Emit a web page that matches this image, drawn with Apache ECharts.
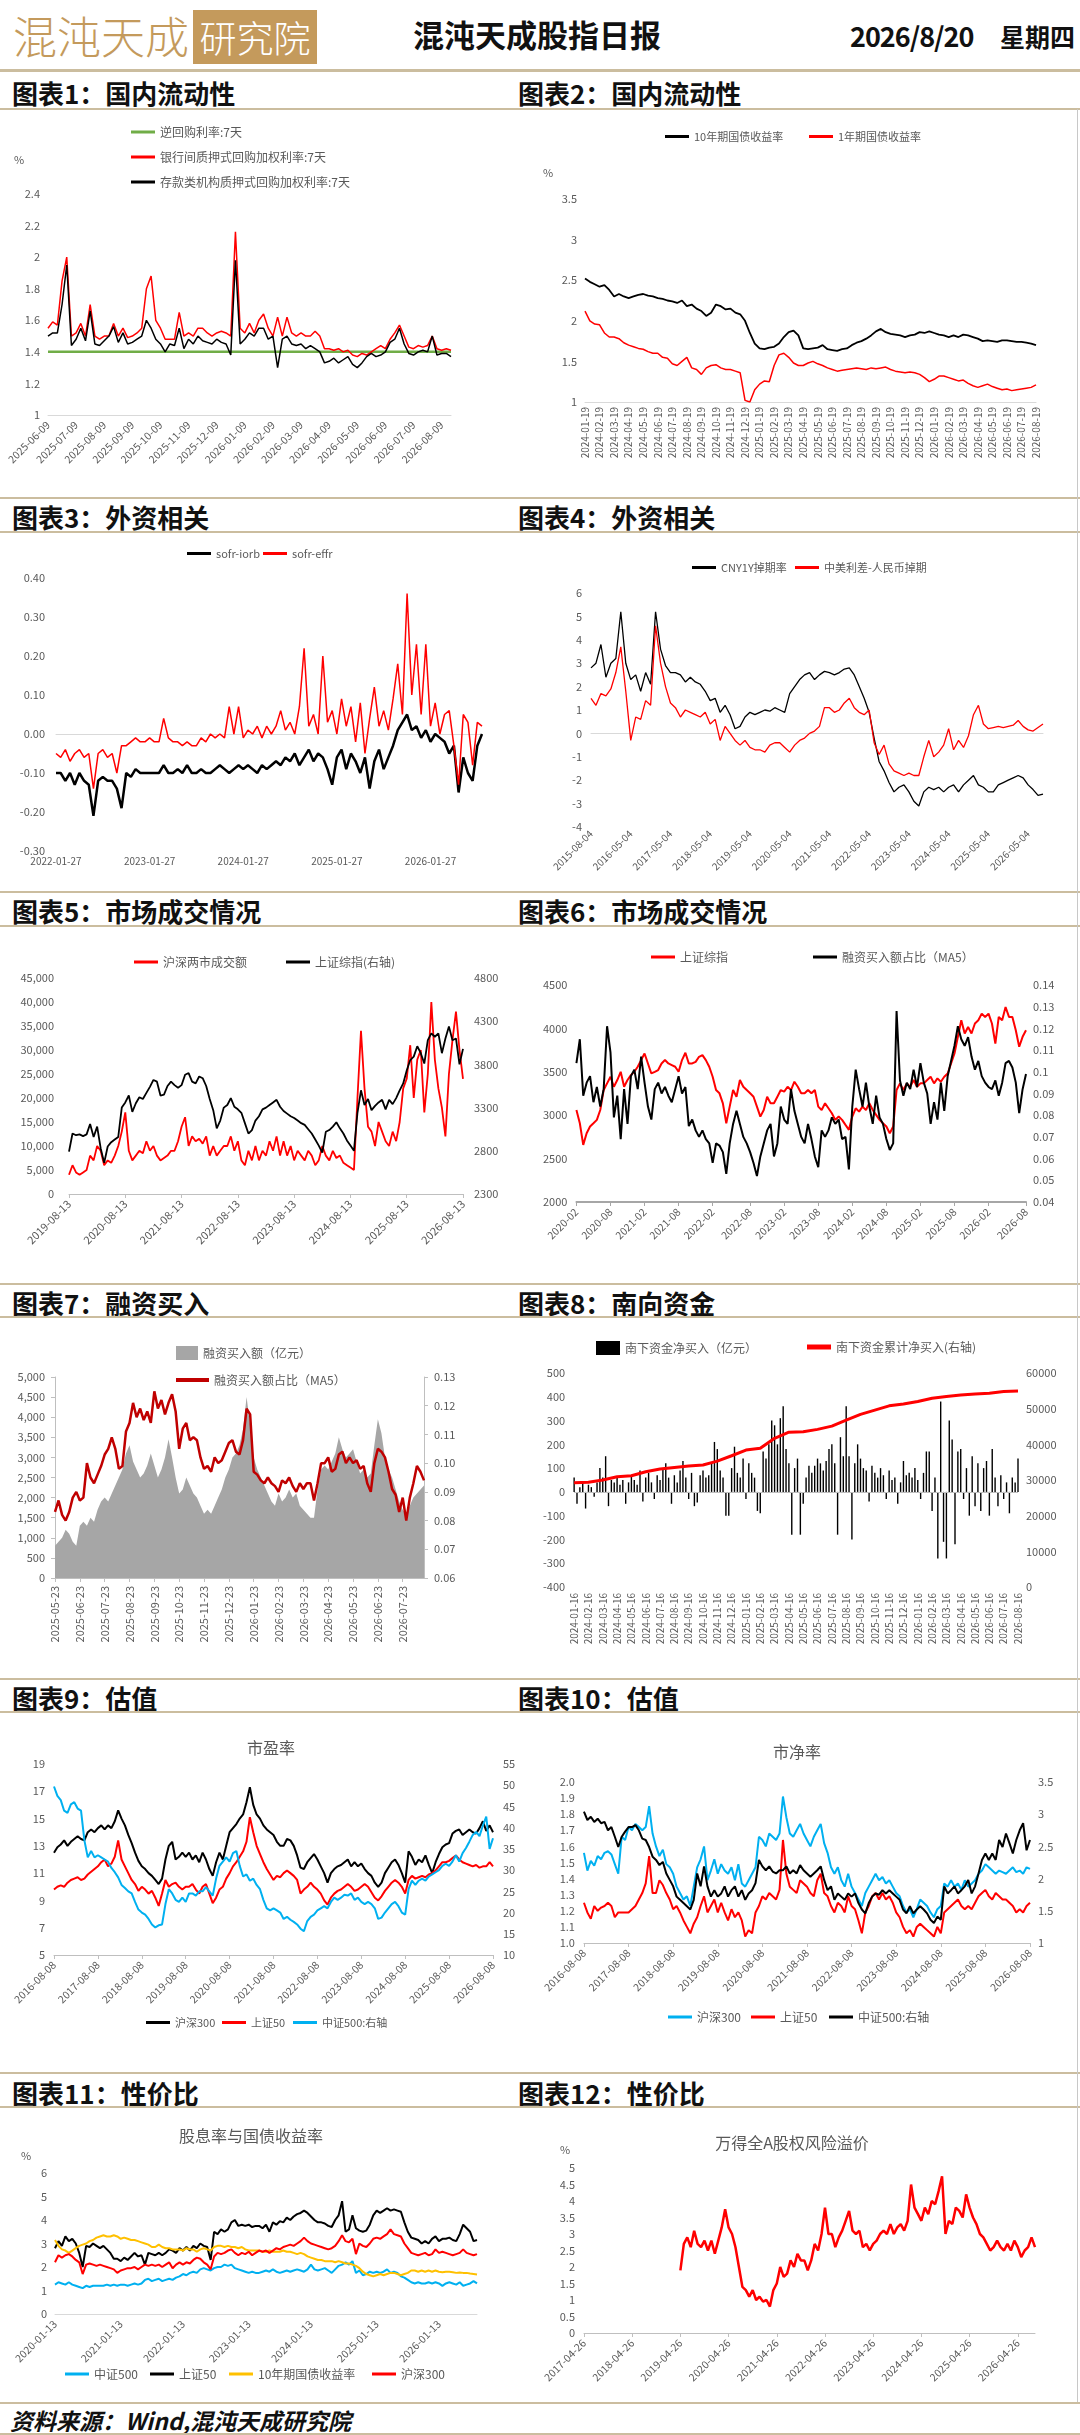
<!DOCTYPE html>
<html>
<head>
<meta charset="utf-8">
<script src="https://cdn.jsdelivr.net/npm/echarts@6/dist/echarts.min.js"></script>
<style>
  body { margin: 0; background: #fff; }
  #page { position: relative; width: 1080px; height: 2435px; overflow: hidden; font-family: "Noto Sans CJK SC", "Noto Sans", sans-serif; color: #111; }
  .rule { position: absolute; left: 0; width: 1080px; height: 2px; background: #cbbd9f; }
  .sec { position: absolute; font-size: 26px; font-weight: 700; line-height: 30px; white-space: nowrap; }
  .chart { position: absolute; width: 540px; }
  .note { position: absolute; color: #595959; font-size: 11px; line-height: 12px; white-space: nowrap; z-index: 2; }
  .ctitle { position: absolute; color: #595959; font-size: 16px; line-height: 18px; white-space: nowrap; transform: translateX(-50%); z-index: 2; }
</style>
</head>
<body>
<div id="page">
  <!-- header -->
  <div style="position:absolute;left:13px;top:6px;font-size:44px;line-height:58px;font-weight:300;color:#c49a5c;letter-spacing:0;">混沌天成</div>
  <div style="position:absolute;left:193px;top:10px;width:124px;height:54px;background:#c49a5c;color:#fff;font-size:37px;line-height:54px;font-weight:300;text-align:center;">研究院</div>
  <div style="position:absolute;left:413px;top:15px;font-size:31px;line-height:38px;font-weight:700;">混沌天成股指日报</div>
  <div style="position:absolute;left:850px;top:18px;font-size:27px;line-height:36px;font-weight:700;letter-spacing:-1px;">2026/8/20</div>
  <div style="position:absolute;left:1000px;top:18px;font-size:25px;line-height:36px;font-weight:700;">星期四</div>
  <div class="rule" style="top:69px;height:3px;"></div>

  <!-- section titles and rules -->
  <div class="sec" style="left:12px;top:78px;">图表1：国内流动性</div>
  <div class="sec" style="left:518px;top:78px;">图表2：国内流动性</div>
  <div class="rule" style="top:108px;"></div>
  <div class="rule" style="top:497px;"></div>
  <div class="sec" style="left:12px;top:502px;">图表3：外资相关</div>
  <div class="sec" style="left:518px;top:502px;">图表4：外资相关</div>
  <div class="rule" style="top:531px;"></div>
  <div class="rule" style="top:891px;"></div>
  <div class="sec" style="left:12px;top:896px;">图表5：市场成交情况</div>
  <div class="sec" style="left:518px;top:896px;">图表6：市场成交情况</div>
  <div class="rule" style="top:925px;"></div>
  <div class="rule" style="top:1283px;"></div>
  <div class="sec" style="left:12px;top:1288px;">图表7：融资买入</div>
  <div class="sec" style="left:518px;top:1288px;">图表8：南向资金</div>
  <div class="rule" style="top:1316px;"></div>
  <div class="rule" style="top:1678px;"></div>
  <div class="sec" style="left:12px;top:1683px;">图表9：估值</div>
  <div class="sec" style="left:518px;top:1683px;">图表10：估值</div>
  <div class="rule" style="top:1711px;"></div>
  <div class="rule" style="top:2072px;"></div>
  <div class="sec" style="left:12px;top:2078px;">图表11：性价比</div>
  <div class="sec" style="left:518px;top:2078px;">图表12：性价比</div>
  <div class="rule" style="top:2106px;"></div>
  <div style="position:absolute;left:1077px;top:109px;width:1px;height:2294px;background:#c8c8c8;"></div>

  <!-- charts -->
  <div class="chart" id="c1" style="left:0;top:110px;height:388px;"></div>
  <div class="chart" id="c2" style="left:540px;top:110px;height:388px;"></div>
  <div class="chart" id="c3" style="left:0;top:533px;height:359px;"></div>
  <div class="chart" id="c4" style="left:540px;top:533px;height:359px;"></div>
  <div class="chart" id="c5" style="left:0;top:927px;height:357px;"></div>
  <div class="chart" id="c6" style="left:540px;top:927px;height:357px;"></div>
  <div class="chart" id="c7" style="left:0;top:1318px;height:360px;"></div>
  <div class="chart" id="c8" style="left:540px;top:1318px;height:360px;"></div>
  <div class="chart" id="c9" style="left:0;top:1713px;height:359px;"></div>
  <div class="chart" id="c10" style="left:540px;top:1713px;height:359px;"></div>
  <div class="chart" id="c11" style="left:0;top:2108px;height:294px;"></div>
  <div class="chart" id="c12" style="left:540px;top:2108px;height:294px;"></div>

  <!-- small notes and chart titles -->
  <div class="note" style="left:14px;top:153px;">%</div>
  <div class="note" style="left:543px;top:166px;">%</div>
  <div class="note" style="left:21px;top:2149px;">%</div>
  <div class="note" style="left:560px;top:2143px;">%</div>
  <div class="ctitle" style="left:271px;top:1738px;">市盈率</div>
  <div class="ctitle" style="left:797px;top:1742px;">市净率</div>
  <div class="ctitle" style="left:251px;top:2126px;">股息率与国债收益率</div>
  <div class="ctitle" style="left:792px;top:2133px;">万得全A股权风险溢价</div>

  <!-- footer -->
  <div class="rule" style="top:2402px;"></div>
  <div style="position:absolute;left:10px;top:2405px;font-size:23px;line-height:30px;font-weight:700;font-style:italic;">资料来源：Wind,混沌天成研究院</div>
  <div class="rule" style="top:2433px;"></div>
</div>

<script>
// ---------- tick labels ----------
const c1Ticks = ['2025-06-09','2025-07-09','2025-08-09','2025-09-09','2025-10-09','2025-11-09','2025-12-09','2026-01-09','2026-02-09','2026-03-09','2026-04-09','2026-05-09','2026-06-09','2026-07-09','2026-08-09'];
const c2Ticks = ['2024-01-19','2024-02-19','2024-03-19','2024-04-19','2024-05-19','2024-06-19','2024-07-19','2024-08-19','2024-09-19','2024-10-19','2024-11-19','2024-12-19','2025-01-19','2025-02-19','2025-03-19','2025-04-19','2025-05-19','2025-06-19','2025-07-19','2025-08-19','2025-09-19','2025-10-19','2025-11-19','2025-12-19','2026-01-19','2026-02-19','2026-03-19','2026-04-19','2026-05-19','2026-06-19','2026-07-19','2026-08-19'];
const c3Ticks = ['2022-01-27','2023-01-27','2024-01-27','2025-01-27','2026-01-27'];
const c4Ticks = ['2015-08-04','2016-05-04','2017-05-04','2018-05-04','2019-05-04','2020-05-04','2021-05-04','2022-05-04','2023-05-04','2024-05-04','2025-05-04','2026-05-04'];
const c5Ticks = ['2019-08-13','2020-08-13','2021-08-13','2022-08-13','2023-08-13','2024-08-13','2025-08-13','2026-08-13'];
const c6Ticks = ['2020-02','2020-08','2021-02','2021-08','2022-02','2022-08','2023-02','2023-08','2024-02','2024-08','2025-02','2025-08','2026-02','2026-08'];
const c7Ticks = ['2025-05-23','2025-06-23','2025-07-23','2025-08-23','2025-09-23','2025-10-23','2025-11-23','2025-12-23','2026-01-23','2026-02-23','2026-03-23','2026-04-23','2026-05-23','2026-06-23','2026-07-23'];
const c8Ticks = ['2024-01-16','2024-02-16','2024-03-16','2024-04-16','2024-05-16','2024-06-16','2024-07-16','2024-08-16','2024-09-16','2024-10-16','2024-11-16','2024-12-16','2025-01-16','2025-02-16','2025-03-16','2025-04-16','2025-05-16','2025-06-16','2025-07-16','2025-08-16','2025-09-16','2025-10-16','2025-11-16','2025-12-16','2026-01-16','2026-02-16','2026-03-16','2026-04-16','2026-05-16','2026-06-16','2026-07-16','2026-08-16'];
const c9Ticks = ['2016-08-08','2017-08-08','2018-08-08','2019-08-08','2020-08-08','2021-08-08','2022-08-08','2023-08-08','2024-08-08','2025-08-08','2026-08-08'];
const c11Ticks = ['2020-01-13','2021-01-13','2022-01-13','2023-01-13','2024-01-13','2025-01-13','2026-01-13'];
const c12Ticks = ['2017-04-26','2018-04-26','2019-04-26','2020-04-26','2021-04-26','2022-04-26','2023-04-26','2024-04-26','2025-04-26','2026-04-26'];

// ---------- chart 1: repo rates (%), ~5 days per point ----------
const repo7d = [1.4, 1.4]; // first and last day, unchanged over the window
const liqInterbank = [1.55,1.59,1.57,1.85,2.0,1.5,1.52,1.58,1.5,1.7,1.5,1.48,1.5,1.5,1.58,1.5,1.55,1.49,1.5,1.52,1.55,1.8,1.88,1.6,1.55,1.48,1.48,1.48,1.65,1.5,1.52,1.5,1.55,1.55,1.52,1.5,1.52,1.53,1.52,1.5,2.16,1.55,1.52,1.58,1.52,1.6,1.64,1.55,1.5,1.62,1.5,1.62,1.52,1.5,1.52,1.5,1.5,1.53,1.5,1.42,1.42,1.41,1.42,1.4,1.41,1.38,1.37,1.39,1.38,1.4,1.42,1.44,1.42,1.48,1.52,1.57,1.5,1.43,1.42,1.44,1.43,1.44,1.5,1.42,1.41,1.42,1.41];
const liqDeposit = [1.5,1.52,1.52,1.7,1.95,1.44,1.48,1.55,1.47,1.66,1.45,1.44,1.47,1.5,1.56,1.46,1.52,1.45,1.46,1.48,1.5,1.6,1.55,1.48,1.45,1.4,1.45,1.44,1.55,1.42,1.48,1.45,1.5,1.47,1.46,1.45,1.48,1.46,1.45,1.38,1.98,1.45,1.48,1.52,1.5,1.55,1.55,1.48,1.5,1.3,1.48,1.5,1.45,1.44,1.45,1.42,1.44,1.42,1.4,1.33,1.34,1.36,1.33,1.35,1.37,1.32,1.3,1.33,1.37,1.39,1.37,1.38,1.4,1.46,1.48,1.55,1.45,1.39,1.38,1.4,1.41,1.4,1.5,1.38,1.39,1.39,1.37];

// ---------- chart 2: government bond yields (%), ~10 days per point ----------
const bond10y = [2.52,2.48,2.45,2.42,2.44,2.38,2.3,2.33,2.3,2.28,2.3,2.32,2.33,2.31,2.3,2.28,2.27,2.25,2.24,2.22,2.25,2.18,2.2,2.15,2.12,2.06,2.1,2.2,2.18,2.14,2.15,2.1,2.08,2.0,1.85,1.72,1.66,1.65,1.67,1.68,1.72,1.8,1.86,1.88,1.82,1.66,1.65,1.66,1.67,1.7,1.65,1.64,1.63,1.65,1.66,1.7,1.73,1.75,1.78,1.82,1.87,1.9,1.86,1.84,1.83,1.82,1.8,1.82,1.83,1.86,1.85,1.87,1.85,1.83,1.82,1.8,1.82,1.8,1.83,1.82,1.8,1.78,1.75,1.76,1.75,1.74,1.76,1.76,1.75,1.74,1.74,1.73,1.72,1.7];
const bond1y = [2.12,2.0,1.96,1.95,1.85,1.8,1.8,1.78,1.73,1.7,1.68,1.66,1.65,1.62,1.6,1.6,1.55,1.54,1.47,1.45,1.5,1.55,1.42,1.4,1.34,1.42,1.45,1.46,1.42,1.4,1.4,1.38,1.36,1.02,1.0,1.15,1.22,1.26,1.25,1.45,1.58,1.6,1.55,1.48,1.45,1.45,1.48,1.5,1.47,1.45,1.42,1.4,1.38,1.39,1.4,1.41,1.42,1.41,1.4,1.42,1.41,1.42,1.43,1.4,1.38,1.37,1.36,1.37,1.36,1.34,1.3,1.25,1.28,1.32,1.32,1.3,1.28,1.26,1.27,1.23,1.2,1.18,1.2,1.22,1.19,1.17,1.15,1.16,1.14,1.15,1.16,1.17,1.18,1.21];

// ---------- chart 3: sofr spreads ----------
const sofrIorb = [-0.10,-0.10,-0.12,-0.10,-0.13,-0.10,-0.12,-0.13,-0.21,-0.12,-0.11,-0.12,-0.12,-0.14,-0.19,-0.10,-0.11,-0.09,-0.10,-0.10,-0.10,-0.10,-0.10,-0.08,-0.10,-0.10,-0.09,-0.10,-0.08,-0.10,-0.10,-0.09,-0.10,-0.10,-0.09,-0.08,-0.09,-0.10,-0.09,-0.08,-0.09,-0.08,-0.09,-0.10,-0.08,-0.09,-0.08,-0.07,-0.08,-0.06,-0.07,-0.05,-0.08,-0.06,-0.04,-0.07,-0.05,-0.06,-0.09,-0.13,-0.06,-0.04,-0.09,-0.05,-0.07,-0.10,-0.06,-0.14,-0.07,-0.04,-0.09,-0.06,-0.03,0.01,0.03,0.05,0.01,0.02,-0.01,0.01,-0.02,0.00,-0.01,-0.02,-0.05,-0.03,-0.15,-0.06,-0.10,-0.12,-0.03,0.00];
const sofrEffr = [-0.05,-0.06,-0.04,-0.07,-0.05,-0.04,-0.06,-0.05,-0.14,-0.05,-0.04,-0.06,-0.05,-0.10,-0.03,-0.03,-0.02,-0.01,-0.02,-0.02,-0.01,-0.02,-0.02,0.04,-0.01,-0.02,-0.02,-0.03,-0.02,-0.03,-0.03,-0.01,-0.02,0.00,-0.01,0.00,-0.01,0.07,0.00,0.07,-0.01,0.01,0.00,0.02,-0.01,0.02,0.00,0.02,0.06,0.01,0.03,0.00,0.07,0.22,0.02,0.05,0.00,0.20,0.03,0.06,0.00,0.09,0.02,0.07,-0.02,0.08,-0.05,0.04,0.12,0.02,0.06,0.01,0.09,0.18,0.05,0.36,0.10,0.23,0.05,0.23,0.02,0.08,0.00,0.05,0.06,-0.03,-0.13,0.05,0.03,-0.08,0.03,0.02];

// ---------- chart 4: CNY swap and spread ----------
const cnySwap = [2.8,3.0,3.8,2.4,3.0,3.2,5.2,3.0,2.3,2.5,1.8,2.6,2.1,5.2,3.6,2.9,2.6,2.6,2.5,2.2,2.4,2.2,2.1,1.8,1.4,1.5,0.9,1.2,0.8,0.2,0.3,0.7,0.9,0.8,0.9,1.0,0.95,1.1,1.0,0.9,1.7,2.0,2.3,2.5,2.6,2.3,2.5,2.65,2.6,2.5,2.6,2.75,2.8,2.5,2.0,1.5,0.9,-0.2,-1.2,-1.6,-2.1,-2.5,-2.3,-2.2,-2.5,-2.9,-3.1,-2.5,-2.3,-2.4,-2.3,-2.5,-2.3,-2.2,-2.5,-2.2,-2.0,-1.8,-2.2,-2.3,-2.5,-2.5,-2.2,-2.1,-2.0,-1.9,-1.8,-1.9,-2.2,-2.4,-2.65,-2.6];
const cnUsSpread = [1.5,1.2,1.7,1.6,1.9,2.6,3.7,1.8,-0.3,0.7,0.6,1.4,1.2,4.6,3.0,2.0,1.3,1.1,0.7,1.0,0.9,0.8,0.7,0.9,0.4,0.6,-0.3,0.3,0.0,-0.3,-0.5,-0.3,-0.6,-0.7,-0.7,-0.8,-0.5,-0.4,-0.4,-0.6,-0.8,-0.5,-0.3,-0.2,0.0,0.1,0.3,1.1,1.1,0.9,1.0,1.3,1.5,1.1,0.9,0.8,1.0,-0.4,-0.9,-0.5,-1.3,-1.6,-1.7,-1.8,-1.7,-1.8,-1.8,-1.0,-0.3,-1.0,-0.8,-0.5,0.2,-0.7,-0.3,-0.6,-0.1,0.8,1.2,0.4,0.2,0.25,0.3,0.25,0.3,0.35,0.55,0.3,0.15,0.1,0.25,0.4];

// ---------- chart 5: turnover (亿元) and SSE composite ----------
const turnover = [4000,6000,4500,4000,4500,5000,8000,7000,10000,9000,6000,7000,6500,8000,10000,13000,17000,9000,7000,8000,9000,8500,11000,9000,10000,8000,7000,7500,8000,9000,9000,11000,14000,16000,10000,12000,11000,11500,10500,12000,8000,10000,8000,9000,10000,10000,12000,9000,11000,7000,6000,9000,7000,10000,7000,9000,8000,11000,9000,12000,8000,11000,8000,10000,7000,9000,8000,7000,9000,8000,6000,7000,10000,8000,7000,9000,7500,8000,6500,6000,5500,5000,20000,34000,22000,14000,13000,10000,15000,13000,11000,10000,13000,11000,15000,22000,24000,31000,20000,28000,30000,17000,25000,40000,28000,22000,18000,12000,25000,32000,38000,30000,24000];
const shComp = [2790,3000,2980,2990,2970,2990,3110,2960,3080,2830,2660,2850,2900,2930,2960,3300,3360,3440,3250,3350,3420,3400,3470,3540,3620,3600,3440,3450,3550,3600,3560,3530,3560,3680,3700,3600,3580,3660,3640,3550,3400,3270,3060,3150,3300,3330,3410,3310,3280,3240,3120,3000,3040,3150,3200,3280,3300,3330,3360,3390,3310,3260,3230,3200,3180,3150,3120,3100,3050,3000,2930,2860,2780,3020,3040,3080,3130,3060,3000,2920,2860,2800,3240,3500,3330,3400,3270,3320,3360,3390,3280,3390,3340,3410,3500,3580,3730,3850,3890,4010,3930,3810,4080,4160,4120,4160,3930,4100,4240,4080,4100,3800,3980];

// ---------- chart 6: SSE composite and margin buy ratio (MA5) ----------
const shComp6 = [3060,2907,2658,2792,2869,2907,2946,3060,3290,3367,3443,3328,3405,3500,3328,3405,3462,3500,3558,3635,3711,3596,3481,3500,3520,3596,3635,3596,3577,3558,3500,3635,3719,3596,3596,3615,3673,3692,3635,3558,3443,3290,3252,3137,2907,3099,3290,3213,3405,3328,3290,3252,3213,3099,2984,3060,3213,3137,3137,3213,3290,3271,3328,3290,3386,3328,3252,3252,3290,3252,3290,3099,3060,3137,3080,3022,2946,2984,2946,2888,2831,2984,3080,3041,3099,3060,3137,3060,3003,2946,2907,2869,2792,2869,3290,3367,3290,3367,3328,3405,3328,3367,3367,3405,3443,3367,3424,3386,3443,3481,3596,3711,3903,4094,3941,4017,3941,4056,4094,4170,4132,4170,4056,3826,4132,4094,4247,4132,4132,3979,3788,3903,3979];
const marginRatio6 = [0.104,0.115,0.089,0.095,0.098,0.086,0.093,0.084,0.092,0.121,0.109,0.079,0.089,0.069,0.092,0.076,0.098,0.101,0.092,0.107,0.095,0.084,0.078,0.092,0.095,0.090,0.093,0.089,0.086,0.092,0.098,0.090,0.093,0.075,0.078,0.073,0.070,0.073,0.069,0.067,0.058,0.067,0.066,0.063,0.053,0.067,0.076,0.082,0.076,0.070,0.067,0.063,0.058,0.052,0.061,0.067,0.073,0.076,0.061,0.067,0.084,0.078,0.076,0.092,0.082,0.076,0.070,0.067,0.076,0.069,0.061,0.056,0.073,0.070,0.073,0.079,0.076,0.078,0.069,0.070,0.055,0.084,0.101,0.092,0.084,0.095,0.084,0.076,0.089,0.079,0.076,0.069,0.064,0.067,0.128,0.096,0.089,0.095,0.092,0.101,0.093,0.104,0.095,0.090,0.076,0.086,0.078,0.095,0.082,0.098,0.105,0.112,0.121,0.115,0.112,0.116,0.107,0.101,0.105,0.098,0.095,0.093,0.092,0.096,0.089,0.095,0.104,0.105,0.102,0.095,0.081,0.092,0.099];

// ---------- chart 7: margin buying ----------
const marginBuy = [800,900,1000,1200,1100,900,800,1300,1400,1300,1500,1400,1700,1900,2000,1900,2100,2300,2500,2700,3100,3300,2900,2700,2500,2600,2800,3100,2800,2500,2700,3000,3450,3000,2500,2100,2200,2500,2300,2100,2000,1800,1600,1700,1600,1800,2000,2200,2500,2700,3000,3100,3300,3700,4500,3800,3000,2700,2500,2300,2100,1900,1800,2100,1900,2000,2200,2000,2100,1800,1700,1600,1500,1500,2200,2700,2800,2700,2900,3100,3500,3200,3000,3100,3200,2900,2600,2700,2500,2600,3300,3950,3600,3000,2700,2500,2200,1900,1700,1600,1800,2000,2100,2200,2300];
const marginRatioMa5 = [0.083,0.087,0.082,0.080,0.083,0.088,0.090,0.087,0.088,0.100,0.095,0.093,0.096,0.099,0.103,0.105,0.109,0.105,0.098,0.099,0.111,0.114,0.121,0.116,0.119,0.115,0.118,0.114,0.125,0.119,0.122,0.117,0.121,0.124,0.118,0.105,0.112,0.114,0.108,0.109,0.108,0.102,0.098,0.099,0.097,0.102,0.100,0.101,0.104,0.107,0.108,0.104,0.103,0.108,0.119,0.117,0.097,0.096,0.094,0.093,0.095,0.093,0.092,0.090,0.094,0.093,0.095,0.092,0.090,0.093,0.091,0.093,0.093,0.087,0.093,0.100,0.100,0.102,0.097,0.098,0.103,0.104,0.100,0.102,0.100,0.101,0.098,0.099,0.093,0.090,0.100,0.105,0.104,0.102,0.097,0.091,0.089,0.083,0.088,0.080,0.088,0.093,0.099,0.097,0.094];

// ---------- chart 8: southbound flows ----------
const southNet = [60,-50,20,40,-70,30,20,-20,40,100,60,150,-60,50,40,60,30,50,-50,40,70,50,30,90,-40,60,80,40,-30,70,50,100,120,60,-50,70,40,90,130,60,-30,80,-60,-45,70,90,60,70,120,210,180,90,60,-100,-100,100,190,80,60,140,-30,120,80,60,-80,-90,170,140,200,300,280,200,310,360,180,120,-180,100,140,-180,-50,60,110,80,110,140,120,90,130,180,200,120,-180,230,150,360,150,-200,120,200,140,100,90,-40,110,80,60,100,70,-30,90,50,60,-50,40,130,70,80,60,100,50,-30,80,170,170,-80,60,-280,380,-210,-280,300,220,-220,170,180,-30,100,-100,150,-60,120,-80,100,130,-100,180,60,-60,70,-30,40,-90,60,40,140];
const southCum = [29250,29350,30000,30900,31200,32300,33100,33500,33900,34200,35300,36800,38400,38900,41700,43400,43500,44200,45100,46800,48400,49600,50800,51300,52000,52900,53400,53800,54100,54300,54800,54950]; // one per month

// ---------- chart 9: PE ----------
const pe300 = [12.5,12.9,13.1,13.4,13.0,13.3,13.5,13.7,13.5,13.4,14.0,14.2,14.0,14.3,14.5,14.2,14.5,14.3,14.8,15.6,15.0,14.5,13.8,13.2,12.5,11.9,11.5,11.3,11.0,10.8,10.5,10.2,10.6,12.0,13.0,13.3,12.0,12.2,12.5,12.2,12.5,12.0,12.3,11.8,12.5,12.0,11.3,10.8,11.8,12.5,12.0,13.0,14.0,14.3,14.6,15.0,15.3,16.2,17.3,16.0,15.3,15.0,14.5,14.2,14.0,13.8,13.3,13.0,13.0,13.5,13.4,13.0,12.3,11.4,11.3,11.8,12.1,12.4,12.0,11.5,11.0,10.3,11.0,11.3,11.5,11.6,11.8,12.0,11.5,11.8,11.5,11.7,11.3,11.0,10.8,10.3,10.0,10.3,11.0,11.4,11.8,12.0,11.6,11.0,10.3,12.6,12.2,11.6,12.0,11.8,12.3,11.6,11.0,11.8,12.4,12.9,13.1,13.2,13.9,14.1,14.2,13.8,14.0,14.2,14.0,13.9,14.3,14.8,14.1,14.5,14.0];
const pe50 = [9.8,10.0,10.1,10.0,10.3,10.5,10.6,10.7,10.5,10.6,10.9,11.1,11.3,11.5,11.8,12.0,11.5,11.7,12.2,13.4,12.0,11.5,11.0,10.5,10.2,9.7,10.0,9.8,9.5,9.7,9.2,8.6,9.5,10.5,10.0,10.2,10.3,10.0,9.8,10.0,10.0,10.2,9.8,9.5,10.0,10.2,9.5,8.8,9.2,9.8,10.0,10.6,11.0,11.5,11.8,12.2,12.6,13.3,15.1,14.0,13.0,12.4,11.8,11.3,10.9,10.5,10.8,10.7,11.0,11.2,11.0,10.8,10.5,9.5,9.8,10.0,10.3,10.0,9.8,9.5,9.0,8.7,9.2,9.5,9.7,9.8,10.0,10.2,10.0,9.7,9.8,10.0,10.2,10.0,9.6,9.2,9.0,9.3,9.7,10.0,10.3,10.5,10.3,10.0,9.5,10.5,10.8,10.6,10.7,10.8,10.7,10.9,11.0,11.2,11.5,11.8,11.8,11.9,12.1,12.3,12.0,11.8,11.7,11.6,11.5,11.6,11.4,11.5,11.5,11.8,11.5];
const pe500 = [49.7,47.5,46.5,44,43.5,45.5,46,44.5,44,37,33,34.5,33,33.5,33,32.5,32,30.5,29.5,28.3,26.5,25.8,25,24.5,22.5,20.7,20,19.5,18.5,17.2,16.5,17,17.2,22,25.5,24.5,23,22.5,23.5,22.5,24.5,24.5,24,25,25,26,25,24,28,31,32,33,32,34,34.5,31,28.5,29,27.5,28,26.5,25.5,23,21,20.5,21,20.5,20,18.5,19,18.3,17.8,17.2,16.2,15.6,18,19,19.5,20.5,21,21.5,21,22.5,23.5,23,23.5,24.2,24,24.5,23,23.5,22.5,22,22.5,22,21,18.5,18.8,20,21,22,22.5,21.5,20,19.5,25.5,27.5,26.5,27.5,28,27.5,28.5,29,29.5,30,31,31.5,31,32,33.5,32,34,35.2,36.7,38.3,39,38,40.5,42.6,35,37.5];

// ---------- chart 10: PB ----------
const pb300 = [1.56,1.45,1.51,1.48,1.54,1.52,1.56,1.57,1.55,1.49,1.43,1.66,1.64,1.72,1.70,1.74,1.72,1.70,1.72,1.85,1.68,1.60,1.54,1.58,1.49,1.47,1.43,1.35,1.31,1.27,1.29,1.23,1.35,1.47,1.52,1.60,1.39,1.45,1.52,1.43,1.49,1.45,1.43,1.47,1.39,1.49,1.37,1.35,1.39,1.43,1.47,1.66,1.64,1.60,1.68,1.66,1.64,1.68,1.91,1.78,1.68,1.66,1.70,1.74,1.68,1.64,1.60,1.66,1.70,1.74,1.62,1.56,1.47,1.43,1.47,1.39,1.35,1.43,1.35,1.31,1.27,1.23,1.31,1.35,1.39,1.43,1.39,1.41,1.37,1.39,1.35,1.31,1.29,1.23,1.19,1.21,1.16,1.21,1.27,1.25,1.23,1.19,1.16,1.21,1.23,1.37,1.35,1.39,1.35,1.37,1.33,1.39,1.35,1.37,1.39,1.43,1.45,1.49,1.47,1.45,1.43,1.45,1.44,1.43,1.45,1.47,1.44,1.45,1.43,1.47,1.46];
const pb50 = [1.25,1.19,1.15,1.23,1.20,1.22,1.23,1.25,1.23,1.16,1.19,1.19,1.19,1.19,1.21,1.23,1.27,1.31,1.37,1.54,1.31,1.31,1.39,1.36,1.31,1.27,1.21,1.23,1.19,1.14,1.10,1.06,1.12,1.16,1.23,1.29,1.19,1.23,1.27,1.19,1.25,1.19,1.14,1.21,1.16,1.19,1.14,1.04,1.08,1.06,1.19,1.23,1.29,1.27,1.31,1.29,1.27,1.33,1.64,1.43,1.35,1.33,1.31,1.39,1.37,1.35,1.31,1.29,1.39,1.43,1.31,1.29,1.23,1.19,1.25,1.23,1.19,1.29,1.23,1.21,1.14,1.06,1.19,1.23,1.29,1.31,1.27,1.31,1.27,1.29,1.25,1.19,1.16,1.10,1.06,1.08,1.04,1.10,1.12,1.10,1.08,1.06,1.04,1.10,1.06,1.19,1.21,1.23,1.25,1.27,1.23,1.21,1.23,1.21,1.25,1.29,1.31,1.33,1.29,1.27,1.31,1.29,1.27,1.27,1.25,1.23,1.19,1.21,1.19,1.23,1.25];
const pb500 = [3.04,2.91,2.96,2.88,2.93,2.86,2.88,2.75,2.80,2.65,2.49,2.65,2.73,2.80,2.80,2.83,2.75,2.62,2.60,2.49,2.34,2.29,2.21,2.26,2.08,1.98,1.88,1.72,1.67,1.62,1.57,1.52,1.67,2.08,1.88,2.19,1.88,1.72,1.82,1.72,1.77,1.88,1.72,1.82,1.88,1.72,1.82,1.67,1.77,1.82,1.93,2.29,2.19,2.13,2.19,2.11,2.08,2.13,2.13,2.19,2.08,2.13,2.08,2.21,2.13,2.08,2.03,2.08,2.13,2.19,1.98,1.82,1.88,1.67,1.77,1.72,1.67,1.77,1.72,1.77,1.62,1.52,1.46,1.62,1.72,1.77,1.75,1.82,1.77,1.82,1.77,1.72,1.67,1.52,1.46,1.57,1.46,1.52,1.57,1.52,1.46,1.36,1.31,1.41,1.36,1.88,1.77,1.82,1.88,1.77,1.82,1.88,1.98,1.77,1.88,2.08,2.29,2.39,2.29,2.39,2.29,2.60,2.49,2.70,2.55,2.39,2.60,2.75,2.86,2.44,2.60];

// ---------- chart 11: dividend yields and 10y bond (%) ----------
const dy500 = [1.25,1.35,1.3,1.25,1.35,1.25,1.2,1.15,1.1,1.2,1.15,1.2,1.2,1.2,1.2,1.25,1.2,1.25,1.2,1.25,1.25,1.2,1.25,1.3,1.25,1.3,1.45,1.5,1.4,1.45,1.5,1.4,1.45,1.5,1.45,1.55,1.6,1.7,1.65,1.75,1.8,1.75,1.9,1.95,1.9,1.85,1.95,2.0,2.0,2.1,2.05,2.1,1.95,1.9,1.85,1.8,1.75,1.8,1.75,1.75,1.8,1.85,1.8,1.9,1.8,1.75,1.8,1.85,1.8,1.85,1.9,1.85,1.8,1.9,2.1,1.9,1.85,1.9,1.95,1.85,1.75,1.9,2.05,2.1,2.2,2.1,2.25,1.75,1.85,1.65,1.7,1.8,1.75,1.8,1.75,1.8,1.9,1.75,1.8,1.75,1.6,1.55,1.45,1.35,1.3,1.35,1.3,1.3,1.35,1.3,1.35,1.3,1.2,1.3,1.35,1.3,1.25,1.35,1.2,1.25,1.3,1.4,1.3];
const dy50 = [2.8,3.1,2.9,3.3,3.1,3.2,3.0,2.6,2.0,2.9,2.85,3.0,2.9,2.8,2.9,2.75,2.6,2.35,2.35,2.25,2.4,2.3,2.45,2.6,2.45,2.5,2.1,2.6,2.55,2.5,2.6,2.5,2.6,2.75,2.7,2.6,2.8,2.7,2.85,2.7,2.9,2.8,3.0,2.9,2.85,2.3,3.5,3.4,3.6,3.5,3.6,3.9,4.0,3.75,3.8,3.75,3.8,3.7,3.75,3.75,3.65,3.8,3.5,3.9,3.8,3.95,3.9,4.1,4.0,4.15,4.25,4.3,4.4,4.3,4.15,4.0,3.9,3.9,3.85,3.75,3.7,4.0,4.2,4.8,3.5,3.6,4.2,3.65,3.55,3.5,3.55,3.8,4.2,4.4,4.3,4.4,4.5,4.4,4.45,4.4,4.35,3.9,3.5,3.25,3.2,3.15,3.0,3.1,3.0,3.2,3.3,3.1,3.2,3.2,3.25,3.15,3.1,3.4,3.8,3.65,3.5,3.1,3.15];
const cgb10y = [3.15,2.9,2.75,2.7,2.6,2.7,2.8,2.9,2.95,3.0,3.1,3.15,3.25,3.3,3.35,3.3,3.3,3.35,3.3,3.2,3.25,3.2,3.15,3.15,3.1,3.05,3.0,2.95,2.85,2.85,2.95,2.85,2.8,2.8,2.75,2.75,2.75,2.7,2.8,2.75,2.75,2.65,2.75,2.8,2.75,2.7,2.85,2.9,2.9,2.85,2.9,2.85,2.85,2.8,2.85,2.75,2.7,2.7,2.7,2.7,2.65,2.65,2.7,2.65,2.65,2.65,2.7,2.65,2.65,2.6,2.55,2.6,2.55,2.45,2.4,2.35,2.3,2.3,2.25,2.25,2.25,2.2,2.25,2.2,2.15,2.15,2.1,2.05,1.95,1.8,1.7,1.65,1.6,1.65,1.7,1.65,1.7,1.75,1.75,1.7,1.65,1.7,1.75,1.85,1.85,1.8,1.85,1.8,1.85,1.8,1.85,1.8,1.78,1.8,1.8,1.78,1.75,1.77,1.75,1.75,1.72,1.7,1.68];
const dy300 = [2.2,2.5,2.4,2.5,2.55,2.45,2.3,2.2,1.7,2.1,2.15,2.1,2.05,2.1,2.05,2.0,1.95,1.9,1.75,1.85,1.9,1.95,1.95,2.0,1.9,2.0,2.1,2.05,2.1,2.05,2.1,2.0,2.1,2.2,1.95,2.1,2.2,2.1,2.2,2.15,2.3,2.4,2.35,2.2,2.1,1.9,2.45,2.6,2.55,2.6,2.7,2.75,2.6,2.5,2.6,2.55,2.65,2.5,2.6,2.7,2.65,2.7,2.6,2.7,2.8,2.75,2.85,2.9,2.95,2.9,3.0,3.1,3.25,3.1,3.0,2.95,2.9,2.85,2.8,2.75,2.8,2.9,3.1,3.35,3.1,3.05,3.2,2.55,3.0,2.9,2.85,3.0,3.2,3.25,3.2,3.3,3.4,3.6,3.4,3.35,3.3,3.0,2.8,2.6,2.55,2.5,2.55,2.6,2.5,2.55,2.75,2.6,2.65,2.6,2.55,2.5,2.55,2.6,2.75,2.6,2.55,2.5,2.55];

// ---------- chart 12: Wind All A equity risk premium (%), starts 2019-04 ----------
const erpWindA = [1.9,2.7,2.9,2.6,3.1,2.7,2.6,2.8,2.5,2.8,2.4,2.8,3.2,3.75,3.2,3.0,2.6,2.0,1.4,1.3,1.1,1.3,1.0,1.1,0.95,1.0,0.8,1.3,1.5,2.0,1.7,1.8,2.2,2.0,2.4,2.2,2.2,1.9,2.2,2.7,2.5,3.0,3.8,3.0,3.0,2.6,2.9,3.1,3.4,3.7,3.1,3.0,3.1,2.6,2.7,2.5,2.7,2.8,3.0,3.1,3.0,3.3,3.0,3.2,3.3,3.1,3.4,4.5,3.8,3.6,3.4,3.8,3.6,4.0,3.9,4.3,4.75,3.0,3.4,3.3,3.8,3.7,3.5,4.2,3.8,3.5,3.3,3.0,2.9,2.7,2.5,2.6,2.8,2.6,2.5,2.7,2.5,2.8,2.6,2.3,2.5,2.6,2.9,2.6];

// ---------- helpers ----------
const LABEL = '#595959';
const FONT = '"Noto Sans CJK SC", "Noto Sans", sans-serif';
const RED = '#ff0000', BLACK = '#000000', BLUE = '#00b0f0', GOLD = '#ffc000';

// category axis whose labels sit every `per` points
function timeAxis(ticks, per, count, o) {
  o = o || {};
  const marks = {};
  ticks.forEach(function (t, k) { marks[Math.round(k * per)] = t; });
  const cats = [];
  for (let i = 0; i < count; i++) cats.push(marks[i] !== undefined ? marks[i] : '_' + i);
  const show = function (i) { return marks[i] !== undefined; };
  return {
    type: 'category', data: cats, boundaryGap: false,
    axisLine: { show: o.line !== false, onZero: o.onZero !== false,
      lineStyle: { color: o.lineColor || '#d9d9d9', width: o.lineWidth || 1 } },
    axisTick: { show: !!o.tick, interval: show, length: 4, lineStyle: { color: o.lineColor || '#bfbfbf' } },
    axisLabel: { interval: show, rotate: o.rotate === undefined ? 45 : o.rotate,
      color: LABEL, fontSize: o.fs || 10.5, margin: o.margin || 6 },
    splitLine: { show: false }
  };
}

const plain = function (v) { return String(v); };

function valAxis(min, max, interval, o) {
  o = o || {};
  return {
    type: 'value', min: min, max: max, interval: interval, position: o.pos || 'left',
    axisLine: { show: !!o.line, lineStyle: { color: '#bfbfbf' } },
    axisTick: { show: !!o.line, length: 4, lineStyle: { color: '#bfbfbf' } },
    axisLabel: { color: LABEL, fontSize: o.fs || 11, margin: o.margin || 8, formatter: o.fmt || plain },
    splitLine: { show: false }
  };
}

function line(name, data, color, width, extra) {
  return Object.assign({
    name: name, type: 'line', data: data, symbol: 'none', showSymbol: false,
    lineStyle: { color: color, width: width }, itemStyle: { color: color },
    emphasis: { disabled: true }
  }, extra || {});
}

function legendItem(name, left, top, o) {
  o = o || {};
  return {
    data: [name], left: left, top: top, padding: 0, selectedMode: false,
    icon: 'rect', itemWidth: o.w || 24, itemHeight: o.h || 3, itemGap: 0,
    textStyle: { color: LABEL, fontSize: o.fs || 11, fontFamily: FONT }
  };
}

const thousands = function (v) { return String(v).replace(/\B(?=(\d{3})+(?!\d))/g, ','); };

function draw(id, option) {
  const chart = echarts.init(document.getElementById(id));
  option.animation = false;
  option.textStyle = { fontFamily: FONT };
  chart.setOption(option);
}

// ---------- chart 1 ----------
const c1Count = liqInterbank.length;
draw('c1', {
  grid: { left: 48, top: 84, width: 403, height: 221 },
  legend: [
    legendItem('逆回购利率:7天', 131, 16, { fs: 12 }),
    legendItem('银行间质押式回购加权利率:7天', 131, 41, { fs: 12 }),
    legendItem('存款类机构质押式回购加权利率:7天', 131, 66, { fs: 12 })
  ],
  xAxis: timeAxis(c1Ticks, 6, c1Count, { margin: 8 }),
  yAxis: valAxis(1, 2.4, 0.2),
  series: [
    line('逆回购利率:7天', [[0, repo7d[0]], [c1Count - 1, repo7d[1]]], '#70ad47', 2.5),
    line('银行间质押式回购加权利率:7天', liqInterbank, RED, 1.5),
    line('存款类机构质押式回购加权利率:7天', liqDeposit, BLACK, 1.5)
  ]
});

// ---------- chart 2 ----------
draw('c2', {
  grid: { left: 45, top: 89, width: 451, height: 203 },
  legend: [
    legendItem('10年期国债收益率', 125, 21),
    legendItem('1年期国债收益率', 269, 21)
  ],
  xAxis: timeAxis(c2Ticks, 3, bond10y.length, { rotate: 90, fs: 10, margin: 5 }),
  yAxis: valAxis(1, 3.5, 0.5),
  series: [
    line('10年期国债收益率', bond10y, BLACK, 1.8),
    line('1年期国债收益率', bond1y, RED, 1.5)
  ]
});

// ---------- chart 3 ----------
draw('c3', {
  grid: { left: 56, top: 45, width: 426, height: 273 },
  legend: [
    legendItem('sofr-iorb', 187, 15),
    legendItem('sofr-effr', 263, 15)
  ],
  xAxis: timeAxis(c3Ticks, 20, sofrIorb.length, { rotate: 0, fs: 10, margin: 5 }),
  yAxis: valAxis(-0.3, 0.4, 0.1, { fmt: function (v) { return v.toFixed(2); }, margin: 11 }),
  series: [
    line('sofr-iorb', sofrIorb, BLACK, 2.5),
    line('sofr-effr', sofrEffr, RED, 1.5)
  ]
});

// ---------- chart 4 ----------
draw('c4', {
  grid: { left: 51, top: 60, width: 452, height: 234 },
  legend: [
    legendItem('CNY1Y掉期率', 152, 29),
    legendItem('中美利差-人民币掉期', 255, 29)
  ],
  xAxis: timeAxis(c4Ticks, 8, cnySwap.length, { fs: 10, margin: 5 }),
  yAxis: valAxis(-4, 6, 1, { margin: 9 }),
  series: [
    line('CNY1Y掉期率', cnySwap, BLACK, 1.3),
    line('中美利差-人民币掉期', cnUsSpread, RED, 1.3)
  ]
});

// ---------- chart 5 ----------
draw('c5', {
  grid: { left: 69, top: 51, width: 394, height: 216 },
  legend: [
    legendItem('沪深两市成交额', 134, 29, { fs: 12 }),
    legendItem('上证综指(右轴)', 286, 29, { fs: 12 })
  ],
  xAxis: timeAxis(c5Ticks, 16, turnover.length, { tick: true, lineColor: '#bfbfbf', fs: 11, margin: 8 }),
  yAxis: [
    valAxis(0, 45000, 5000, { fmt: thousands, margin: 15 }),
    valAxis(2300, 4800, 500, { pos: 'right', margin: 11 })
  ],
  series: [
    line('沪深两市成交额', turnover, RED, 1.8),
    line('上证综指(右轴)', shComp, BLACK, 1.8, { yAxisIndex: 1 })
  ]
});

// ---------- chart 6 ----------
draw('c6', {
  grid: { left: 32, top: 58, width: 454, height: 217 },
  legend: [
    legendItem('上证综指', 111, 24, { fs: 12 }),
    legendItem('融资买入额占比（MA5）', 273, 24, { fs: 12 })
  ],
  xAxis: timeAxis(c6Ticks, 10.12, shComp6.length, { tick: true, lineColor: '#a6a6a6', lineWidth: 2, margin: 8 }),
  yAxis: [
    valAxis(2000, 4500, 500, { margin: 9 }),
    valAxis(0.04, 0.14, 0.01, { pos: 'right', margin: 7, fmt: function (v) { return String(+v.toFixed(2)); } })
  ],
  series: [
    line('上证综指', shComp6, RED, 2),
    line('融资买入额占比（MA5）', marginRatio6, BLACK, 2, { yAxisIndex: 1 })
  ]
});

// ---------- chart 7 ----------
draw('c7', {
  grid: { left: 55, top: 59, width: 369, height: 201 },
  legend: [
    legendItem('融资买入额（亿元）', 176, 28, { w: 22, h: 14, fs: 12 }),
    legendItem('融资买入额占比（MA5）', 176, 56, { w: 33, h: 4, fs: 12 })
  ],
  xAxis: timeAxis(c7Ticks, 7, marginBuy.length, { rotate: 90, tick: true, lineColor: '#bfbfbf', fs: 11, margin: 8 }),
  yAxis: [
    valAxis(0, 5000, 500, { line: true, fmt: thousands, margin: 10 }),
    valAxis(0.06, 0.13, 0.01, { pos: 'right', line: true, margin: 10, fmt: function (v) { return v.toFixed(2); } })
  ],
  series: [
    line('融资买入额（亿元）', marginBuy, '#a6a6a6', 0, { areaStyle: { color: '#a6a6a6', opacity: 1 } }),
    line('融资买入额占比（MA5）', marginRatioMa5, '#c00000', 2.5, { yAxisIndex: 1 })
  ]
});

// ---------- chart 8 ----------
const c8Per = 5;
draw('c8', {
  grid: { left: 32, top: 55, width: 446, height: 214 },
  legend: [
    legendItem('南下资金净买入（亿元）', 56, 23, { w: 24, h: 14, fs: 12 }),
    legendItem('南下资金累计净买入(右轴)', 267, 23, { w: 24, h: 5, fs: 12 })
  ],
  xAxis: timeAxis(c8Ticks, c8Per, southNet.length, { rotate: 90, line: false, onZero: false, fs: 10, margin: 6 }),
  yAxis: [
    valAxis(-400, 500, 100, { margin: 9 }),
    valAxis(0, 60000, 10000, { pos: 'right', margin: 8 })
  ],
  series: [
    { name: '南下资金净买入（亿元）', type: 'bar', data: southNet, barWidth: 1.4,
      itemStyle: { color: BLACK }, emphasis: { disabled: true },
      markLine: { silent: true, symbol: 'none', label: { show: false },
        lineStyle: { color: '#bfbfbf', type: 'solid', width: 1 }, data: [{ yAxis: 0 }] } },
    line('南下资金累计净买入(右轴)', southCum.map(function (v, m) { return [m * c8Per, v]; }), RED, 3, { yAxisIndex: 1 })
  ]
});

// ---------- chart 9 ----------
draw('c9', {
  grid: { left: 54, top: 51, width: 439, height: 191 },
  legend: [
    legendItem('沪深300', 146, 304),
    legendItem('上证50', 222, 304),
    legendItem('中证500:右轴', 293, 304)
  ],
  xAxis: timeAxis(c9Ticks, 13, pe300.length, { tick: true, lineColor: '#bfbfbf', margin: 8 }),
  yAxis: [
    valAxis(5, 19, 2, { margin: 9 }),
    valAxis(10, 55, 5, { pos: 'right', margin: 10 })
  ],
  series: [
    line('沪深300', pe300, BLACK, 2),
    line('上证50', pe50, RED, 2),
    line('中证500:右轴', pe500, BLUE, 2, { yAxisIndex: 1 })
  ]
});

// ---------- chart 10 ----------
draw('c10', {
  grid: { left: 42, top: 69, width: 448, height: 161 },
  legend: [
    legendItem('沪深300', 128, 298, { fs: 12 }),
    legendItem('上证50', 211, 298, { fs: 12 }),
    legendItem('中证500:右轴', 289, 298, { fs: 12 })
  ],
  xAxis: timeAxis(c9Ticks, 13, pb300.length, { tick: true, lineColor: '#bfbfbf', margin: 8 }),
  yAxis: [
    valAxis(1.0, 2.0, 0.1, { margin: 9, fmt: function (v) { return v.toFixed(1); } }),
    valAxis(1, 3.5, 0.5, { pos: 'right', margin: 8 })
  ],
  series: [
    line('沪深300', pb300, BLUE, 2),
    line('上证50', pb50, RED, 2),
    line('中证500:右轴', pb500, BLACK, 2, { yAxisIndex: 1 })
  ]
});

// ---------- chart 11 ----------
draw('c11', {
  grid: { left: 55, top: 65, width: 422, height: 141 },
  legend: [
    legendItem('中证500', 65, 260, { fs: 12 }),
    legendItem('上证50', 150, 260, { fs: 12 }),
    legendItem('10年期国债收益率', 229, 260, { fs: 12 }),
    legendItem('沪深300', 372, 260, { fs: 12 })
  ],
  xAxis: timeAxis(c11Ticks, 18.5, dy50.length, { margin: 8 }),
  yAxis: valAxis(0, 6, 1, { margin: 8 }),
  series: [
    line('中证500', dy500, BLUE, 2),
    line('上证50', dy50, BLACK, 2),
    line('10年期国债收益率', cgb10y, GOLD, 2),
    line('沪深300', dy300, RED, 2)
  ]
});

// ---------- chart 12 ----------
const c12Per = 14.04;
const erpStart = Math.round(2 * c12Per); // first value is 2019-04-26
draw('c12', {
  grid: { left: 44, top: 60, width: 451, height: 165 },
  xAxis: timeAxis(c12Ticks, c12Per, erpStart + erpWindA.length, { tick: true, lineColor: '#bfbfbf', margin: 8 }),
  yAxis: valAxis(0, 5, 0.5, { margin: 9 }),
  series: [
    line('万得全A股权风险溢价', erpWindA.map(function (v, i) { return [erpStart + i, v]; }), RED, 2.5)
  ]
});
</script>
</body>
</html>
